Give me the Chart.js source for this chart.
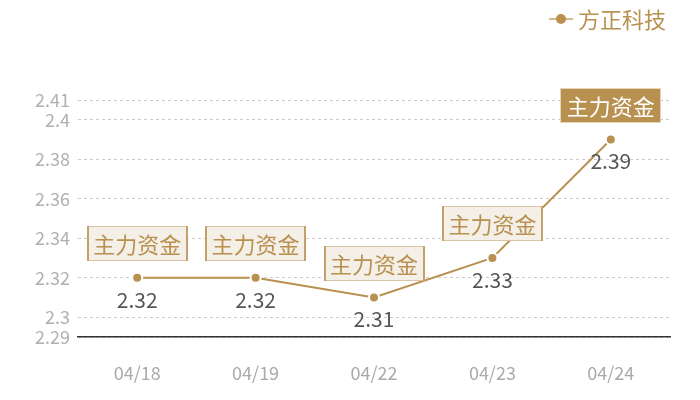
<!DOCTYPE html>
<html>
<head>
<meta charset="utf-8">
<script src="https://cdn.jsdelivr.net/npm/chart.js@4.4.1/dist/chart.umd.min.js"></script>
<style>
    html, body { margin: 0; padding: 0; background: #fff; }
    #wrap { width: 700px; height: 400px; position: relative; }
</style>
</head>
<body>
<div id="wrap"><canvas id="priceChart"></canvas></div>
<script>
// 차트 데이터
const DATES = ['04/18', '04/19', '04/22', '04/23', '04/24'];
const PRICES = [2.32, 2.32, 2.31, 2.33, 2.39];
const TAGS = ['主力资金', '主力资金', '主力资金', '主力资金', '主力资金'];
const TAG_HIGHLIGHT = [false, false, false, false, true];
const Y_TICKS = [2.29, 2.3, 2.32, 2.34, 2.36, 2.38, 2.4, 2.41];
const SERIES_NAME = '方正科技';

const GOLD = '#b8904f';
const FONT = '"Noto Sans CJK SC", "Noto Sans", sans-serif';

// 포인트 위 태그 + 아래 값 라벨, 우상단 범례
const labelPlugin = {
    id: 'pointLabels',
    afterDatasetsDraw(chart) {
        const ctx = chart.ctx;
        const meta = chart.getDatasetMeta(0);
        ctx.save();
        meta.data.forEach((pt, i) => {
            const x = pt.x, y = pt.y;

            // 값 라벨
            ctx.font = '21px ' + FONT;
            ctx.fillStyle = '#555';
            ctx.textAlign = 'center';
            ctx.textBaseline = 'middle';
            ctx.fillText(String(PRICES[i]), x, y + 22);

            // 태그 박스
            const w = 101, h = 35;
            const bx = Math.round(x - w / 2), by = Math.round(y - 17 - h);
            if (TAG_HIGHLIGHT[i]) {
                ctx.fillStyle = GOLD;
                ctx.fillRect(bx, by, w, h);
                ctx.strokeStyle = '#e6d6b8';
                ctx.lineWidth = 1;
                ctx.strokeRect(bx + 0.5, by + 0.5, w - 1, h - 1);
                ctx.fillStyle = '#fff';
            } else {
                ctx.fillStyle = '#f4efe7';
                ctx.fillRect(bx, by, w, h);
                ctx.strokeStyle = '#d9c5a3';
                ctx.lineWidth = 1;
                ctx.strokeRect(bx + 0.5, by + 0.5, w - 1, h - 1);
                ctx.fillStyle = '#c4a06a';
                ctx.fillRect(bx, by, 2, h);
                ctx.fillRect(bx + w - 2, by, 2, h);
                ctx.fillStyle = GOLD;
            }
            ctx.font = '22px ' + FONT;
            ctx.fillText(TAGS[i], x, by + h / 2 + 1);
        });

        // 범례
        const ly = 19;
        ctx.strokeStyle = '#d4b88c';
        ctx.lineWidth = 2;
        ctx.beginPath();
        ctx.moveTo(549, ly);
        ctx.lineTo(573, ly);
        ctx.stroke();
        ctx.fillStyle = GOLD;
        ctx.beginPath();
        ctx.arc(561, ly, 5, 0, Math.PI * 2);
        ctx.fill();
        ctx.font = '22px ' + FONT;
        ctx.textAlign = 'left';
        ctx.textBaseline = 'middle';
        ctx.fillText(SERIES_NAME, 578, ly + 1);
        ctx.restore();
    }
};

const config = {
    type: 'line',
    data: {
        labels: DATES,
        datasets: [{
            label: SERIES_NAME,
            data: PRICES,
            borderColor: GOLD,
            borderWidth: 2,
            backgroundColor: GOLD,
            pointBackgroundColor: GOLD,
            pointBorderColor: '#fff',
            pointBorderWidth: 2,
            pointRadius: 5,
            tension: 0
        }]
    },
    options: {
        responsive: true,
        maintainAspectRatio: false,
        animation: false,
        layout: {
            padding: { top: 100, right: 30, left: 0, bottom: 0 }
        },
        plugins: {
            legend: { display: false },
            tooltip: { enabled: false }
        },
        scales: {
            x: {
                offset: true,
                grid: { display: false, drawTicks: false },
                border: { display: true, color: '#333', width: 1.5 },
                ticks: {
                    color: '#aaa',
                    padding: 25,
                    font: { size: 18, family: FONT }
                },
                afterFit(scale) { scale.height = 63; }
            },
            y: {
                min: 2.29,
                max: 2.41,
                grid: {
                    color: '#ccc',
                    drawTicks: false
                },
                border: { display: false, dash: [3, 3] },
                ticks: {
                    color: '#b0b0b0',
                    padding: 8,
                    font: { size: 18, family: FONT },
                    callback: (v) => String(Number(v.toFixed(2)))
                },
                afterBuildTicks(scale) {
                    scale.ticks = Y_TICKS.map(v => ({ value: v }));
                },
                afterFit(scale) { scale.width = 78; }
            }
        }
    },
    plugins: [labelPlugin]
};

new Chart(document.getElementById('priceChart'), config);
</script>
</body>
</html>
